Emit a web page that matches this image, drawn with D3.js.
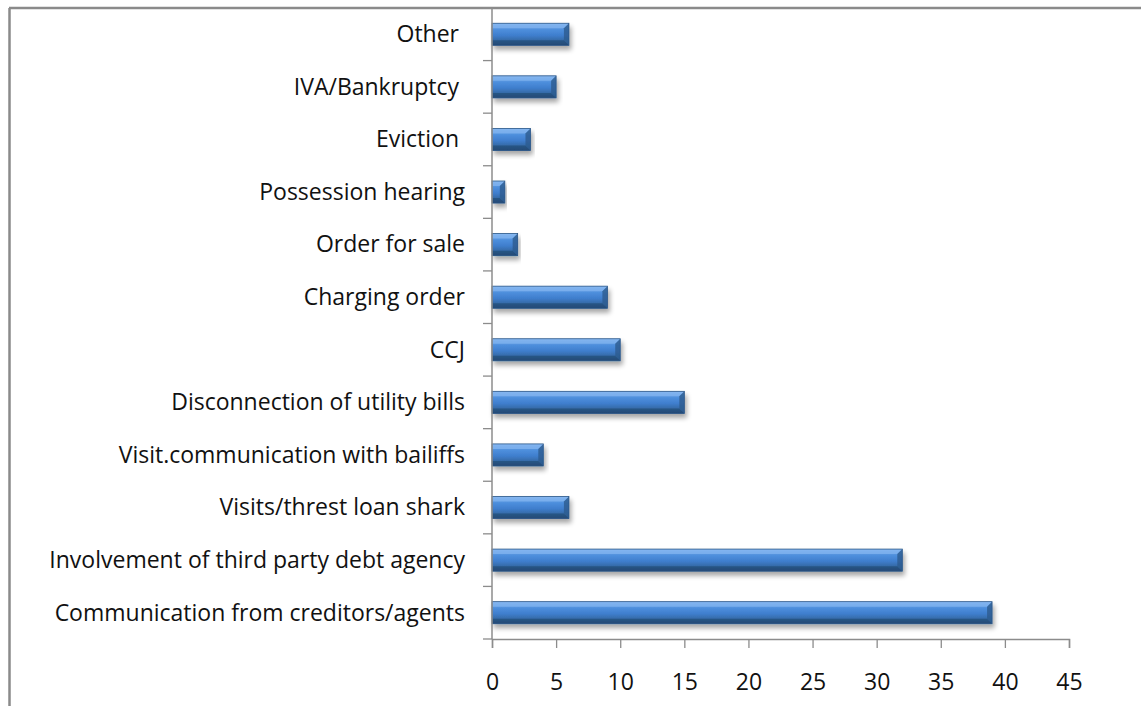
<!DOCTYPE html>
<html>
<head>
<meta charset="utf-8">
<script src="https://cdn.jsdelivr.net/npm/d3@7"></script>
<style>
  html, body { margin: 0; padding: 0; background: #fff; }
  svg { display: block; }
  .cat text, .val text { font-family: "Open Sans", "Noto Sans", sans-serif; fill: #111; }
</style>
</head>
<body>
<div id="chart"></div>
<script>
// Debt-related events reported (counts), top to bottom as drawn
const categories = [
  "Other ",
  "IVA/Bankruptcy ",
  "Eviction ",
  "Possession hearing",
  "Order for sale",
  "Charging order",
  "CCJ",
  "Disconnection of utility bills",
  "Visit.communication with bailiffs",
  "Visits/threst loan shark",
  "Involvement of third party debt agency",
  "Communication from creditors/agents"
];
const values = [6, 5, 3, 1, 2, 9, 10, 15, 4, 6, 32, 39];
const xTicks = [0, 5, 10, 15, 20, 25, 30, 35, 40, 45];

const W = 1141, H = 706;
const plot = { left: 492, right: 1069, top: 8, bottom: 639 };

const svg = d3.select("#chart").append("svg")
  .attr("width", W).attr("height", H);

const defs = svg.append("defs");
const grad = defs.append("linearGradient")
  .attr("id", "barFill").attr("x1", 0).attr("y1", 0).attr("x2", 0).attr("y2", 1);
[[0, "#8fbcf0"], [0.12, "#64a0e4"], [0.3, "#4d8edc"], [0.55, "#3f7ecd"], [0.8, "#3468a3"], [1, "#284f7e"]]
  .forEach(([o, c]) => grad.append("stop").attr("offset", o).attr("stop-color", c));

const shadow = defs.append("filter").attr("id", "barShadow")
  .attr("x", "-5%").attr("y", "-30%").attr("width", "115%").attr("height", "190%");
shadow.append("feGaussianBlur").attr("in", "SourceAlpha").attr("stdDeviation", 2.5).attr("result", "b");
shadow.append("feOffset").attr("in", "b").attr("dx", 2).attr("dy", 4).attr("result", "o");
shadow.append("feComponentTransfer").attr("in", "o").attr("result", "s")
  .append("feFuncA").attr("type", "linear").attr("slope", 0.35);
const merge = shadow.append("feMerge");
merge.append("feMergeNode").attr("in", "s");
merge.append("feMergeNode").attr("in", "SourceGraphic");

// outer frame (top and left edges)
svg.append("line").attr("x1", 9).attr("x2", W).attr("y1", 8).attr("y2", 8)
  .attr("stroke", "#8a8a8a").attr("stroke-width", 2.5);
svg.append("line").attr("x1", 9.5).attr("x2", 9.5).attr("y1", 8).attr("y2", H)
  .attr("stroke", "#8a8a8a").attr("stroke-width", 2.5);

const x = d3.scaleLinear().domain([0, 45]).range([plot.left, plot.right]);
const y = d3.scaleBand().domain(categories).range([plot.top, plot.bottom]).paddingInner(0.58).paddingOuter(0.29);
const yb = d3.scaleBand().domain(categories).range([plot.top, plot.bottom]);

// bars
const bars = svg.append("g").selectAll("g").data(categories).join("g")
  .attr("filter", "url(#barShadow)");
bars.each(function (c, i) {
  const g = d3.select(this);
  const x0 = x(0), x1 = x(values[i]);
  const y0 = y(c), h = y.bandwidth(), y1 = y0 + h;
  const bv = Math.min(5, (x1 - x0) / 2);
  g.append("rect").attr("x", x0).attr("y", y0).attr("width", x1 - x0).attr("height", h)
    .attr("fill", "url(#barFill)");
  // top bevel
  g.append("path").attr("d", `M${x0},${y0}L${x1},${y0}L${x1 - bv},${y0 + 5}L${x0},${y0 + 5}Z`)
    .attr("fill", "#84b5f0").attr("opacity", 0.75);
  // bottom bevel
  g.append("path").attr("d", `M${x0},${y1}L${x1},${y1}L${x1 - bv},${y1 - 5}L${x0},${y1 - 5}Z`)
    .attr("fill", "#22476f").attr("opacity", 0.6);
  // end bevel
  g.append("path").attr("d", `M${x1},${y0}L${x1},${y1}L${x1 - bv},${y1 - 5}L${x1 - bv},${y0 + 5}Z`)
    .attr("fill", "#2d5b8f").attr("opacity", 0.8);
  g.append("rect").attr("x", x0).attr("y", y0).attr("width", x1 - x0).attr("height", h)
    .attr("fill", "none").attr("stroke", "#2c5788").attr("stroke-width", 0.8);
});

// category axis
const yAxis = svg.append("g").attr("class", "cat")
  .attr("transform", `translate(${plot.left},0)`)
  .call(d3.axisLeft(yb).tickSize(0).tickPadding(27));
yAxis.select(".domain").remove();
yAxis.selectAll("text").attr("font-size", 23).style("white-space", "pre").attr("dy", "0.34em");
// boundary ticks between categories
svg.append("g").selectAll("line").data(d3.range(categories.length + 1)).join("line")
  .attr("x1", plot.left - 9).attr("x2", plot.left)
  .attr("y1", i => plot.top + i * yb.step()).attr("y2", i => plot.top + i * yb.step())
  .attr("stroke", "#8c8c8c").attr("stroke-width", 1.3);
svg.append("line").attr("x1", plot.left).attr("x2", plot.left)
  .attr("y1", plot.top).attr("y2", plot.bottom)
  .attr("stroke", "#8c8c8c").attr("stroke-width", 1.5);

// value axis
const xAxis = svg.append("g").attr("class", "val")
  .attr("transform", `translate(0,${plot.bottom})`)
  .call(d3.axisBottom(x).tickValues(xTicks).tickSize(9).tickPadding(26));
xAxis.select(".domain").attr("stroke", "#8c8c8c").attr("stroke-width", 1.5);
xAxis.selectAll(".tick line").attr("stroke", "#8c8c8c").attr("stroke-width", 1.3);
xAxis.selectAll("text").attr("font-size", 23);
</script>
</body>
</html>
